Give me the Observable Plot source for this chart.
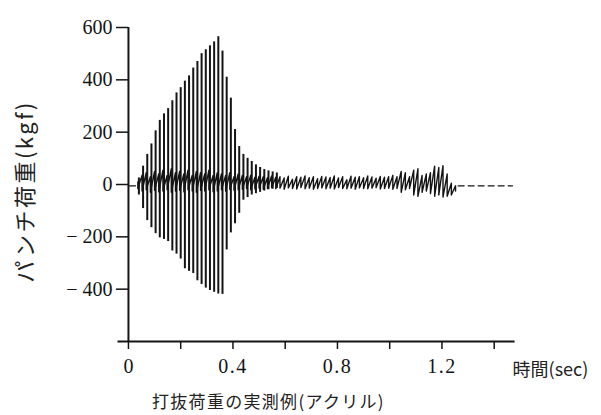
<!DOCTYPE html>
<html>
<head>
<meta charset="utf-8">
<script src="https://cdn.jsdelivr.net/npm/d3@7"></script>
<script src="https://cdn.jsdelivr.net/npm/@observablehq/plot@0.6"></script>
<style>
  html, body { margin: 0; padding: 0; background: #fff; }
  #wrap { width: 601px; height: 415px; position: relative; overflow: hidden; }
  #caption {
    position: absolute; left: 152px; top: 389px;
    font-family: "Noto Sans CJK JP", sans-serif; font-size: 17px;
    letter-spacing: 1.3px; color: #222; line-height: 24px; white-space: nowrap;
  }
  #chart svg text.num { font-family: "Liberation Serif", "Times New Roman", serif !important; }
</style>
</head>
<body>
<div id="wrap">
  <div id="chart"></div>
  <div id="caption"></div>
</div>
<script>
// ---- texts ----
const yTitle = "パンチ荷重(kgf)";
const xTitle = "時間(sec)";
const captionText = "打抜荷重の実測例(アクリル)";

// ---- tick values ----
const yTicks = [-400, -200, 0, 200, 400, 600];
const xMajorTicks = [0, 0.4, 0.8, 1.2];
const xMinorTicks = [0.2, 0.6, 1.0, 1.4];

// ---- main punch burst: each oscillation cycle (sec) with its max / min load (kgf) ----
const burstTime = [0.040, 0.056, 0.072, 0.088, 0.104, 0.120, 0.136, 0.152, 0.168, 0.184,
                   0.200, 0.216, 0.232, 0.248, 0.264, 0.280, 0.296, 0.312, 0.328, 0.344,
                   0.360, 0.376, 0.392, 0.408, 0.424, 0.440, 0.456, 0.472, 0.488, 0.504,
                   0.520, 0.536, 0.552, 0.568];
const burstHigh = [25, 70, 115, 155, 205, 245, 270, 290, 320, 350,
                   370, 395, 415, 445, 470, 500, 515, 530, 545, 565,
                   510, 410, 330, 210, 145, 115, 100, 88, 75, 65,
                   57, 52, 48, 44];
const burstLow  = [-40, -92, -138, -165, -188, -204, -210, -218, -254, -266,
                   -285, -322, -332, -340, -368, -382, -396, -405, -412, -418,
                   -420, -250, -185, -150, -110, -60, -50, -40, -35, -30,
                   -25, -20, -18, -15];

// ---- small vibration band around zero (sec, max kgf, min kgf) ----
const bandTime = [0.036, 0.052, 0.068, 0.084, 0.100, 0.116, 0.132, 0.148, 0.164, 0.180,
                  0.196, 0.212, 0.228, 0.244, 0.260, 0.276, 0.292, 0.308, 0.324, 0.340,
                  0.356, 0.372, 0.388, 0.404, 0.420, 0.436, 0.452, 0.468, 0.484, 0.500,
                  0.516, 0.532, 0.548, 0.564, 0.580, 0.596, 0.612, 0.628, 0.644, 0.660,
                  0.676, 0.692, 0.708, 0.724, 0.740, 0.756, 0.772, 0.788, 0.804, 0.820,
                  0.836, 0.852, 0.868, 0.884, 0.900, 0.916, 0.932, 0.948, 0.964, 0.980,
                  0.996, 1.012, 1.028, 1.044, 1.060, 1.076, 1.092, 1.108, 1.124, 1.140,
                  1.156, 1.172, 1.188, 1.204, 1.220, 1.236, 1.252];
const bandHigh = [10, 35, 45, 30, 50, 40, 55, 35, 60, 45,
                  50, 40, 55, 35, 50, 45, 40, 55, 35, 45,
                  40, 35, 45, 30, 40, 35, 30, 35, 28, 32,
                  30, 26, 33, 28, 30, 25, 32, 20, 30, 28,
                  33, 26, 30, 22, 31, 29, 27, 33, 25, 30,
                  18, 32, 28, 30, 26, 33, 29, 24, 31, 28,
                  30, 35, 30, 50, 45, 30, 55, 60, 35, 40,
                  45, 70, 65, 72, 40, 5, -5];
const bandLow  = [-15, -25, -20, -30, -22, -28, -25, -20, -30, -25,
                  -22, -28, -20, -25, -30, -22, -25, -20, -28, -25,
                  -20, -25, -18, -22, -20, -18, -15, -20, -16, -14,
                  -18, -15, -12, -16, -14, -18, -13, -15, -17, -12,
                  -16, -14, -18, -15, -13, -16, -14, -17, -12, -15,
                  -16, -14, -18, -13, -15, -16, -14, -12, -17, -15,
                  -14, -18, -15, -30, -20, -15, -40, -45, -30, -25,
                  -35, -45, -40, -48, -45, -40, -25];

// ---- dashed zero trace before and after the punch (sec) ----
const startDashTime = [0.004, 0.036];
const endDashTime = [1.262, 1.47];
const dashLoad = -5;

// ---- build tables ----
const burst = burstTime.map((t, i) => ({t, hi: burstHigh[i], lo: burstLow[i]}));
const band = bandTime.flatMap((t, i) => [{t, v: bandHigh[i]}, {t, v: bandLow[i]}]);
const dashes = [
  ...startDashTime.map(t => ({t, v: dashLoad, s: "a"})),
  ...endDashTime.map(t => ({t, v: dashLoad, s: "b"}))
];

const serif = "'Liberation Serif', 'Times New Roman', serif";
const cjk = "'Noto Sans CJK JP', sans-serif";
const ink = "#141414";

const chart = Plot.plot({
  width: 601,
  height: 389,
  marginTop: 27,
  marginBottom: 48,
  marginLeft: 117.5,
  marginRight: 86.4,
  style: {background: "#fff", color: ink, fontFamily: serif, overflow: "visible"},
  x: {domain: [-0.04, 1.48]},
  y: {domain: [-600, 600]},
  marks: [
    // punch load signal
    Plot.ruleX(burst, {x: "t", y1: "lo", y2: "hi", stroke: ink, strokeWidth: 2}),
    Plot.line(band, {x: "t", y: "v", stroke: ink, strokeWidth: 1.4, curve: "linear"}),
    Plot.line(dashes, {x: "t", y: "v", z: "s", stroke: ink, strokeWidth: 1.3, strokeDasharray: "6,4"}),
    // axes lines
    Plot.ruleX([0], {stroke: ink, strokeWidth: 2}),
    Plot.ruleY([-600], {stroke: ink, strokeWidth: 2}),
    // y axis ticks and labels (placed on the x = 0 line)
    Plot.axisY({
      ticks: yTicks, tickSize: 12, tickPadding: 4, dx: 10.45,
      tickFormat: d => d < 0 ? "\u2212 " + Math.abs(d) : String(d),
      fontSize: 20, fontFamily: serif, label: null, strokeWidth: 1.5
    }),
    // x axis ticks
    Plot.axisX({
      ticks: xMajorTicks, tickSize: 8, tickPadding: 9,
      tickFormat: d => String(d), fontSize: 20, fontFamily: serif, label: null, strokeWidth: 1.5
    }),
    Plot.axisX({ticks: xMinorTicks, tickSize: 8, tickFormat: () => "", label: null, strokeWidth: 1.5}),
    // axis titles
    Plot.text([xTitle], {frameAnchor: "bottom-right", dx: -2.5, dy: 29, textAnchor: "start",
      lineAnchor: "middle", fontSize: 18, fontFamily: cjk, fill: "#222"}),
    Plot.text([yTitle], {frameAnchor: "left", rotate: -90, dx: -92.5, dy: 7, textAnchor: "middle",
      lineAnchor: "middle", fontSize: 22, fontFamily: cjk, fill: "#222"})
  ]
});

document.getElementById("chart").appendChild(chart);
document.getElementById("caption").textContent = captionText;

// fonts and letter spacing for texts as in the print
d3.select(chart).selectAll("text").each(function() {
  const s = this.textContent;
  if (s === yTitle) {
    this.setAttribute("letter-spacing", "2.5");
    this.style.fontFamily = cjk;
  } else if (/^[\d.\s\u2212]+$/.test(s) && s.trim() !== "") {
    this.classList.add("num");
    this.style.fontFamily = serif;
    if (/^\d\.\d$/.test(s)) this.setAttribute("letter-spacing", "1.5");
  }
});
</script>
</body>
</html>
